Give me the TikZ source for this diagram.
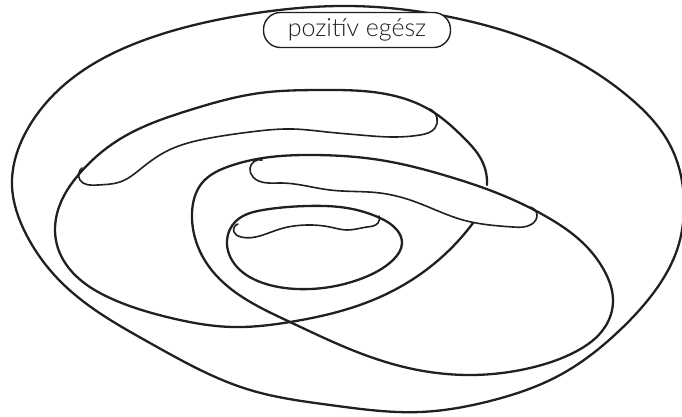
\documentclass[tikz,border=0pt]{standalone}
\usepackage{fontspec}
\setmainfont{Lato}[UprightFont=* Light]
\usetikzlibrary{hobby}
\definecolor{ink}{HTML}{231F20}
\tikzset{
  setline/.style={draw=ink, line width=2.3pt, line join=round, line cap=round},
  blobline/.style={draw=ink, line width=1.6pt, line join=round, line cap=round},
  labelbox/.style={draw=ink, fill=white, line width=1.4pt, rounded corners=17pt,
     minimum width=187pt, minimum height=35pt, inner sep=0pt,
     font=\fontsize{25}{26}\selectfont, text=ink}
}
\begin{document}
\begin{tikzpicture}[x=1pt,y=-1pt]
\useasboundingbox (0,0) rectangle (682,416);
% outer set
\draw[setline] plot[closed hobby] coordinates {
 (12,185) (27,130) (70,80) (150,38) (250,14) (350,6) (450,17) (550,48)
 (630,98) (670,145) (684,205) (677,250) (657,288) (620,330) (560,375)
 (490,401) (420,412) (330,405) (250,390) (150,343) (62,283) (25,232)};
% left middle set (open where blob 2 lies)
\draw[setline] plot[hobby] coordinates {
 (487,185) (483,163) (463,137) (430,110) (380,93) (320,90) (260,93)
 (190,110) (120,139) (80,173) (58,210) (57,245) (75,275) (110,298)
 (167,317) (233,327) (290,322) (380,297) (430,267) (473,223)};
% right middle set
\draw[setline] plot[closed hobby] coordinates {
 (192,213) (202,183) (230,166) (263,158) (313,155) (380,160) (447,176)
 (497,193) (547,217) (583,243) (605,272) (613,300) (605,327) (575,352)
 (530,368) (470,375) (400,366) (340,345) (290,322) (247,300) (210,268)};
% innermost set
\draw[setline] plot[closed hobby] coordinates {
 (227,240) (236,221) (263,210) (307,206) (347,208) (380,218) (397,230)
 (402,243) (393,260) (363,278) (330,287) (297,289) (263,283) (237,267)};
% blob 1
\draw[blobline] plot[hobby] coordinates {
 (82,168) (80,180) (98,185) (120,182) (143,167) (167,151) (210,138)
 (250,132) (293,129) (327,132) (360,135) (393,137) (420,135) (435,128)
 (437,118) (430,109)};
% blob 2
\draw[blobline] plot[hobby] coordinates {
 (262,160) (250,168) (253,177) (280,183) (330,190) (380,193) (413,201)
 (463,220) (513,227) (532,224) (537,215) (529,207)};
% blob 3
\draw[blobline] plot[hobby] coordinates {
 (238,224) (234,232) (241,237) (280,229) (307,225) (330,227) (347,230)
 (367,227) (378,223) (379,216)};
% label
\node[labelbox] (lbl) at (357,30) {pozitív egész};
\end{tikzpicture}
\end{document}
